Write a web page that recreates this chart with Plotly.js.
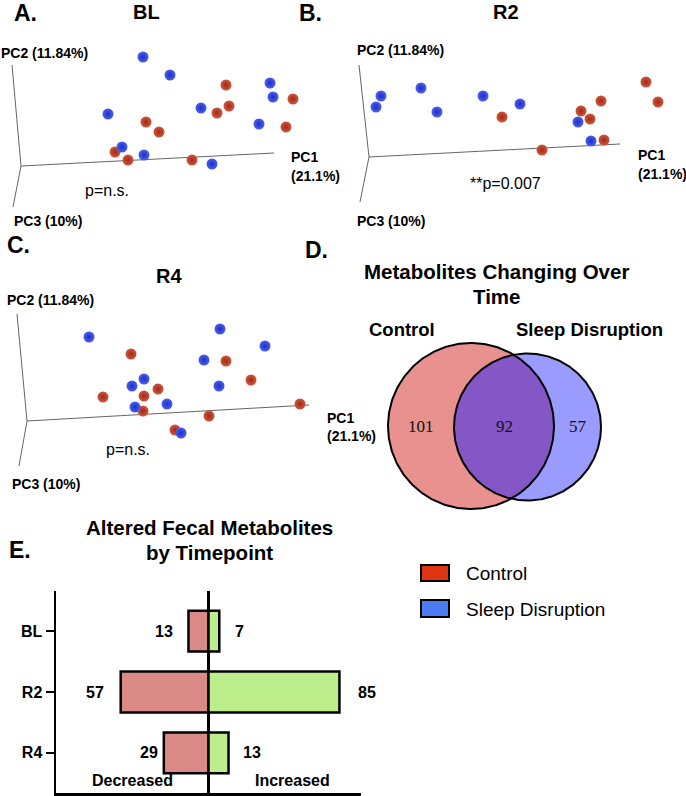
<!DOCTYPE html>
<html>
<head>
<meta charset="utf-8">
<script src="https://cdn.plot.ly/plotly-3.0.1.min.js"></script>
<style>
  body { margin: 0; background: #fff; }
  #fig { width: 686px; height: 796px; }
</style>
</head>
<body>
<div id="fig"></div>
<script>
// PCoA scores (PC1 to the right, PC2 up, 1 unit = 1 px)
const blCtrlX = [205, 272, 208, 196, 265, 125, 138, 94, 107, 171];
const blCtrlY = [81, 67, 60, 53, 39, 44, 34, 14, 6, 6];
const blSdX = [122, 149, 87, 180, 249, 252, 238, 101, 123, 191];
const blSdY = [109, 91, 52, 58, 83, 69, 42, 19, 11, 2];

const r2CtrlX = [277, 289, 232, 212, 221, 133, 235, 173];
const r2CtrlY = [75, 55, 56, 46, 38, 40, 17, 7];
const r2SdX = [12, 7, 52, 68, 114, 151, 209, 222];
const r2SdY = [61, 50, 69, 45, 61, 53, 35, 16];

const r4CtrlX = [104, 199, 224, 131, 117, 76, 116, 273, 182, 148];
const r4CtrlY = [67, 60, 41, 32, 25, 24, 10, 17, 5, -9];
const r4SdX = [62, 193, 238, 177, 117, 105, 192, 140, 108, 154];
const r4SdY = [84, 92, 75, 61, 42, 35, 35, 17, 14, -12];

// Venn counts: control only, shared, sleep disruption only
const vennCounts = [101, 92, 57];

// altered metabolites per timepoint
const timepoints = ['BL', 'R2', 'R4'];
const decreased = [13, 57, 29];
const increased = [7, 85, 13];

const W = 686, H = 796;
const FONT = 'Liberation Sans, Arial, sans-serif';
const RED = '#d2553c', RED_EDGE = '#9c2c1a';
const BLUE = '#4a5ff0', BLUE_EDGE = '#1f2fc0';

function txt(s, x, y, size, o) {
    return Object.assign({
        text: s, xref: 'paper', yref: 'paper', x: x / W, y: 1 - y / H,
        xanchor: 'center', yanchor: 'middle', showarrow: false,
        font: { family: FONT, size: size, color: '#000' }
    }, o || {});
}

const traces = [];
const layout = {
    width: W, height: H,
    margin: { l: 0, r: 0, t: 0, b: 0 },
    paper_bgcolor: '#fff', plot_bgcolor: 'rgba(0,0,0,0)',
    showlegend: false,
    annotations: [],
    shapes: []
};

function pixelAxes(n, ox, oy, x0, x1, y0, y1) {
    const sx = n === 1 ? '' : n;
    layout['xaxis' + sx] = {
        domain: [x0 / W, x1 / W], range: [x0 - ox, x1 - ox],
        visible: false, fixedrange: true, anchor: 'y' + sx
    };
    layout['yaxis' + sx] = {
        domain: [1 - y1 / H, 1 - y0 / H], range: [oy - y1, oy - y0],
        visible: false, fixedrange: true, anchor: 'x' + sx
    };
    return { xaxis: 'x' + sx, yaxis: 'y' + sx };
}

// three PCoA panels
const panels = [
    { ox: 21, oy: 166, box: [0, 343, 30, 225], pc1: [253, 13], pc2: [-9, 101], pc3: [-8, -41],
      ctrl: [blCtrlX, blCtrlY], sd: [blSdX, blSdY] },
    { ox: 369, oy: 157, box: [343, 686, 30, 225], pc1: [251, 13], pc2: [-10, 92], pc3: [-9, -45],
      ctrl: [r2CtrlX, r2CtrlY], sd: [r2SdX, r2SdY] },
    { ox: 27, oy: 421, box: [0, 343, 255, 500], pc1: [282, 16], pc2: [-10, 107], pc3: [-8, -45],
      ctrl: [r4CtrlX, r4CtrlY], sd: [r4SdX, r4SdY] }
];

panels.forEach((p, i) => {
    const ax = pixelAxes(i + 1, p.ox, p.oy, p.box[0], p.box[1], p.box[2], p.box[3]);
    traces.push(Object.assign({
        type: 'scatter', mode: 'lines', hoverinfo: 'skip',
        x: [p.pc2[0], 0, p.pc1[0], null, 0, p.pc3[0]],
        y: [p.pc2[1], 0, p.pc1[1], null, 0, p.pc3[1]],
        line: { color: '#666', width: 1 }
    }, ax));
    traces.push(Object.assign({
        type: 'scatter', mode: 'markers', name: 'Control',
        x: p.ctrl[0], y: p.ctrl[1],
        marker: { size: 11, color: RED, gradient: { type: 'radial', color: RED_EDGE }, line: { width: 0 } }
    }, ax));
    traces.push(Object.assign({
        type: 'scatter', mode: 'markers', name: 'Sleep Disruption',
        x: p.sd[0], y: p.sd[1],
        marker: { size: 11, color: BLUE, gradient: { type: 'radial', color: BLUE_EDGE }, line: { width: 0 } }
    }, ax));
});

// Venn diagram (panel D)
const vAx = pixelAxes(4, 343, 520, 343, 686, 330, 520);
const circA = { cx: 128, cy: 94, r: 83 };
const circB = { cx: 184.5, cy: 93, r: 73.5 };

function circle(c, t0, t1, n) {
    const xs = [], ys = [];
    for (let k = 0; k <= n; k++) {
        const t = t0 + (t1 - t0) * k / n;
        xs.push(c.cx + c.r * Math.cos(t));
        ys.push(c.cy + c.r * Math.sin(t));
    }
    return { x: xs, y: ys };
}
function inside(c, x, y) {
    return Math.hypot(x - c.cx, y - c.cy) <= c.r;
}
const fullA = circle(circA, 0, 2 * Math.PI, 360);
const fullB = circle(circB, 0, 2 * Math.PI, 360);
const arcA = circle(circA, -Math.PI, Math.PI, 720);
const arcB = circle(circB, 0, 2 * Math.PI, 720);
const lensX = [], lensY = [];
arcA.x.forEach((x, k) => { if (inside(circB, x, arcA.y[k])) { lensX.push(x); lensY.push(arcA.y[k]); } });
arcB.x.forEach((x, k) => { if (inside(circA, x, arcB.y[k])) { lensX.push(x); lensY.push(arcB.y[k]); } });

traces.push(Object.assign({ type: 'scatter', mode: 'none', fill: 'toself', fillcolor: '#e8918f',
    x: fullA.x, y: fullA.y, hoverinfo: 'skip' }, vAx));
traces.push(Object.assign({ type: 'scatter', mode: 'none', fill: 'toself', fillcolor: '#9a9bff',
    x: fullB.x, y: fullB.y, hoverinfo: 'skip' }, vAx));
traces.push(Object.assign({ type: 'scatter', mode: 'none', fill: 'toself', fillcolor: '#8456c6',
    x: lensX, y: lensY, hoverinfo: 'skip' }, vAx));
traces.push(Object.assign({ type: 'scatter', mode: 'lines', line: { color: '#000', width: 2 },
    x: fullA.x, y: fullA.y, hoverinfo: 'skip' }, vAx));
traces.push(Object.assign({ type: 'scatter', mode: 'lines', line: { color: '#000', width: 2 },
    x: fullB.x, y: fullB.y, hoverinfo: 'skip' }, vAx));

const vennX = [
    ((circA.cx - circA.r) + (circB.cx - circB.r)) / 2,
    ((circB.cx - circB.r) + (circA.cx + circA.r)) / 2,
    ((circA.cx + circA.r) + (circB.cx + circB.r)) / 2
];
vennCounts.forEach((v, k) => {
    layout.annotations.push({
        text: String(v), xref: 'x4', yref: 'y4', x: vennX[k], y: circA.cy - 1,
        showarrow: false, xanchor: 'center', yanchor: 'middle',
        font: { family: 'Liberation Serif, Times New Roman, serif', size: 17, color: '#111' }
    });
});

// diverging bar chart (panel E)
layout.xaxis5 = {
    domain: [56 / W, 361 / W], range: [-99, 99], anchor: 'y5', fixedrange: true,
    showline: true, linecolor: '#000', linewidth: 2.5,
    showticklabels: false, ticks: '', showgrid: false,
    zeroline: true, zerolinecolor: '#000', zerolinewidth: 2.5
};
layout.yaxis5 = {
    domain: [1 - 793 / H, 1 - 591 / H], type: 'category', range: [2.66, -0.66],
    anchor: 'x5', fixedrange: true,
    showline: true, linecolor: '#000', linewidth: 2.5, showgrid: false,
    ticks: 'outside', ticklen: 8, tickwidth: 2.5, tickcolor: '#000',
    tickfont: { family: FONT, size: 16, color: '#000', weight: 'bold' }
};
layout.barmode = 'overlay';
traces.push({
    type: 'bar', orientation: 'h', xaxis: 'x5', yaxis: 'y5', name: 'Decreased',
    y: timepoints, x: decreased.map(v => -v), width: 0.67,
    marker: { color: '#d98a87', line: { color: '#000', width: 2.5 } }, hoverinfo: 'skip'
});
traces.push({
    type: 'bar', orientation: 'h', xaxis: 'x5', yaxis: 'y5', name: 'Increased',
    y: timepoints, x: increased, width: 0.67,
    marker: { color: '#bdee8c', line: { color: '#000', width: 2.5 } }, hoverinfo: 'skip'
});
const decGap = [13, 15, 4];
const incGap = [14, 17, 12];
timepoints.forEach((t, k) => {
    layout.annotations.push({
        text: '<b>' + decreased[k] + '</b>', xref: 'x5', yref: 'y5', x: -decreased[k], y: t,
        xanchor: 'right', yanchor: 'middle', xshift: -decGap[k], showarrow: false,
        font: { family: FONT, size: 16, color: '#000' }
    });
    layout.annotations.push({
        text: '<b>' + increased[k] + '</b>', xref: 'x5', yref: 'y5', x: increased[k], y: t,
        xanchor: 'left', yanchor: 'middle', xshift: incGap[k], showarrow: false,
        font: { family: FONT, size: 16, color: '#000' }
    });
});

// texts
const L = { xanchor: 'left' };
layout.annotations.push(
    txt('<b>A.</b>', 12, 13, 23, L),
    txt('<b>B.</b>', 297, 13, 23, L),
    txt('<b>C.</b>', 5, 245, 23, L),
    txt('<b>D.</b>', 303, 250, 23, L),
    txt('<b>E.</b>', 7, 550, 23, L),

    txt('<b>BL</b>', 146, 12, 20),
    txt('<b>R2</b>', 506, 12, 20),
    txt('<b>R4</b>', 169, 276, 20),

    txt('<b>PC2 (11.84%)</b>', -1, 53, 14, L),
    txt('<b>PC1</b>', 289, 157, 14, L),
    txt('<b>(21.1%)</b>', 289, 176, 14, L),
    txt('<b>PC3 (10%)</b>', 12, 221, 14, L),
    txt('p=n.s.', 107, 191, 16),

    txt('<b>PC2 (11.84%)</b>', 355, 50, 14, L),
    txt('<b>PC1</b>', 636, 155, 14, L),
    txt('<b>(21.1%)</b>', 636, 174, 14, L),
    txt('<b>PC3 (10%)</b>', 355, 221, 14, L),
    txt('**p=0.007', 505, 183, 16),

    txt('<b>PC2 (11.84%)</b>', 5, 300, 14, L),
    txt('<b>PC1</b>', 325, 418, 14, L),
    txt('<b>(21.1%)</b>', 325, 436, 14, L),
    txt('<b>PC3 (10%)</b>', 10, 484, 14, L),
    txt('p=n.s.', 128, 449, 16),

    txt('<b>Metabolites Changing Over</b>', 496, 272, 20.5),
    txt('<b>Time</b>', 496, 296, 20.5),
    txt('<b>Control</b>', 402, 330, 18.5),
    txt('<b>Sleep Disruption</b>', 589, 330, 18.5),

    txt('<b>Altered Fecal Metabolites</b>', 209, 527, 20.5),
    txt('<b>by Timepoint</b>', 209, 552, 20.5),
    txt('<b>Decreased</b>', 132, 780, 16),
    txt('<b>Increased</b>', 292, 780, 16),

    txt('Control', 464, 573, 19, L),
    txt('Sleep Disruption', 464, 609, 19, L)
);

// legend swatches
[['#de3412', 565, 581], ['#4c7cf4', 600, 617]].forEach(s => {
    layout.shapes.push({
        type: 'rect', xref: 'paper', yref: 'paper',
        x0: 421 / W, x1: 449 / W, y0: 1 - s[2] / H, y1: 1 - s[1] / H,
        fillcolor: s[0], line: { color: '#000', width: 2 }
    });
});

Plotly.newPlot('fig', traces, layout, { staticPlot: true });
</script>
</body>
</html>
